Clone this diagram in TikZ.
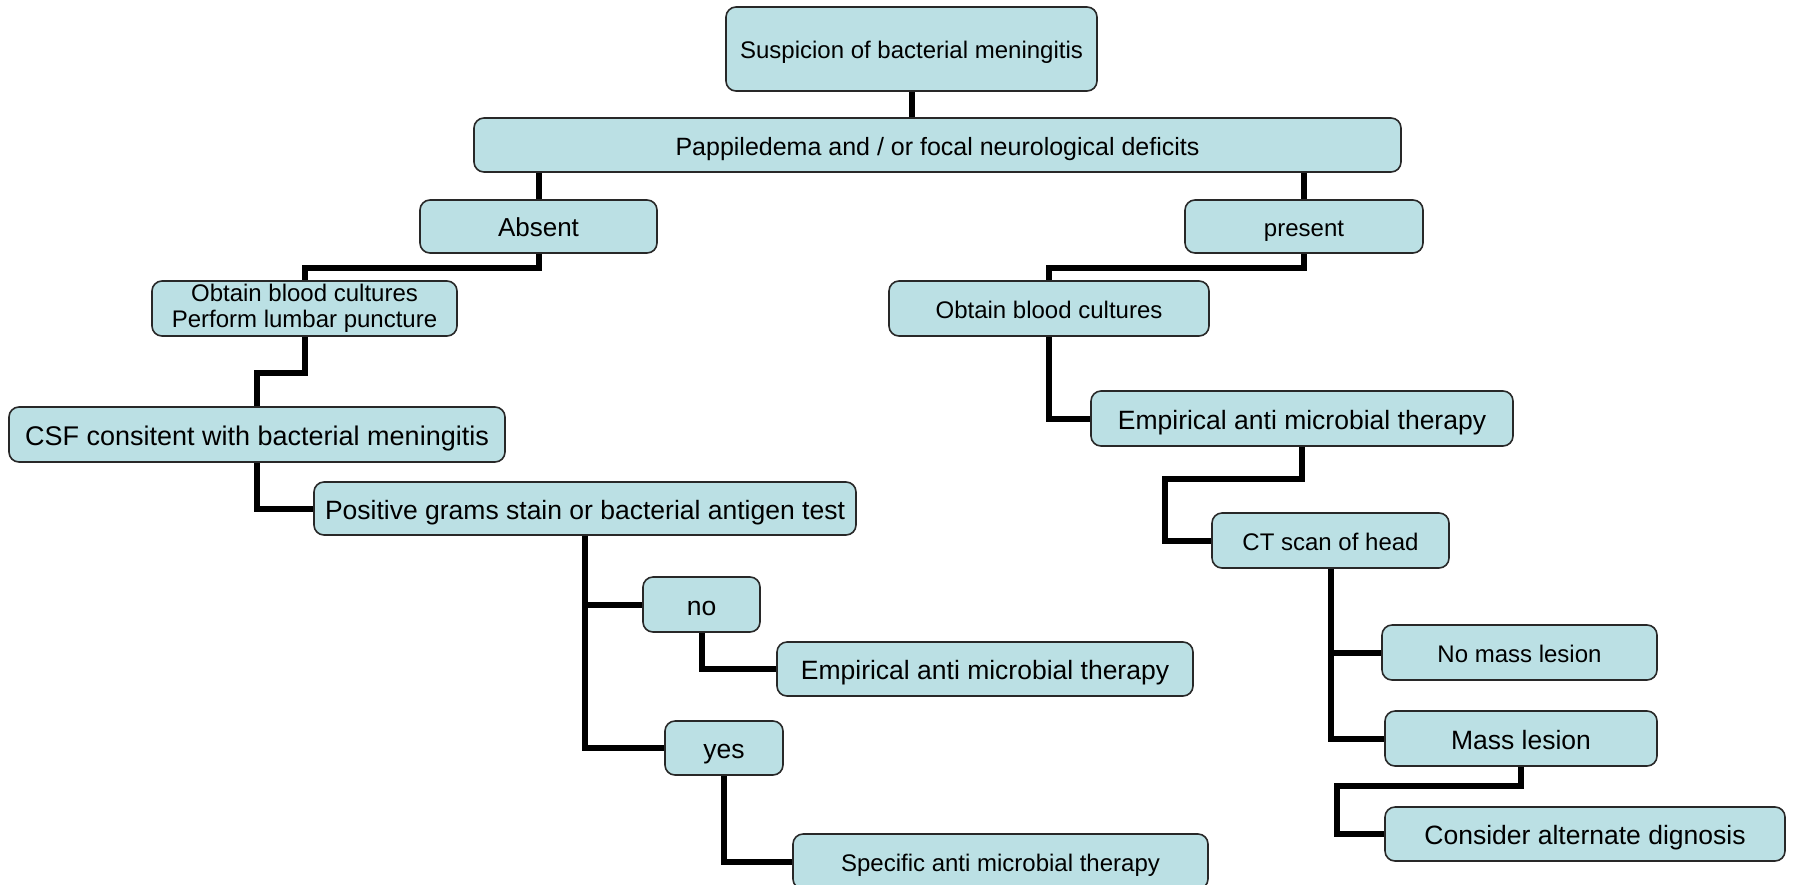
\documentclass[tikz,border=0pt]{standalone}
\usepackage{fontspec}
\setmainfont{Liberation Sans}
\definecolor{boxfill}{RGB}{187,224,228}
\definecolor{boxline}{RGB}{40,40,40}

\begin{document}
\begin{tikzpicture}[x=1pt, y=-1pt,
  every node/.style = {shape=rectangle, rounded corners=10pt,
    draw=boxline, line width=1.6pt, fill=boxfill,
    align=center, inner sep=0pt, text=black, text depth=0pt},
  small/.style = {font=\fontsize{24}{30}\selectfont, text height=19.2pt},
  big/.style = {font=\fontsize{26.5}{32}\selectfont, text height=21.2pt},
  link/.style = {line width=6pt, black}]
  \useasboundingbox (0,0) rectangle (1795,884);
  \node [small, minimum width=371, minimum height=84] (susp) at (911.5,49) {Suspicion of bacterial meningitis};
  \node [font=\fontsize{25}{30}\selectfont, text height=20pt, minimum width=927, minimum height=54] (papp) at (937.5,145) {Pappiledema and / or focal neurological deficits};
  \node [font=\fontsize{26}{30}\selectfont, text height=20.8pt, minimum width=237, minimum height=53] (absent) at (538.5,226.5) {Absent};
  \node [small, minimum width=238, minimum height=53] (present) at (1304,226.5) {present};
  \node [font=\fontsize{24}{30}\selectfont, text height=, text depth=, minimum width=305, minimum height=55] (obtainL) at (304.5,308.5) {Obtain blood cultures\\[-4pt]Perform lumbar puncture};
  \node [font=\fontsize{27}{32}\selectfont, text height=21.6pt, minimum width=496, minimum height=55] (csf) at (257,434.5) {CSF consitent with bacterial meningitis};
  \node [big, minimum width=542, minimum height=53] (pos) at (585,508.5) {Positive grams stain or bacterial antigen test};
  \node [big, minimum width=117, minimum height=55] (no) at (701.5,604.5) {no};
  \node [big, minimum width=416, minimum height=54] (empL) at (985,669) {Empirical anti microbial therapy};
  \node [big, minimum width=118, minimum height=54] (yes) at (724,748) {yes};
  \node [small, minimum width=415, minimum height=55] (spec) at (1000.5,861.5) {Specific anti microbial therapy};
  \node [small, minimum width=320, minimum height=55] (obtainR) at (1049,308.5) {Obtain blood cultures};
  \node [big, minimum width=422, minimum height=55] (empR) at (1302,418.5) {Empirical anti microbial therapy};
  \node [small, minimum width=237, minimum height=55] (ct) at (1330.5,540.5) {CT scan of head};
  \node [small, minimum width=275, minimum height=55] (nomass) at (1519.5,652.5) {No mass lesion};
  \node [big, minimum width=272, minimum height=55] (mass) at (1521,738.5) {Mass lesion};
  \node [big, minimum width=400, minimum height=54] (consider) at (1585,834) {Consider alternate dignosis};
  \coordinate (kneeCT) at (1165,479);
  \coordinate (kneeCon) at (1337,786);

  \draw [link] (susp.south) -- (susp.south |- papp.north);
  \draw [link] (papp.south -| absent.north) -- (absent.north);
  \draw [link] (papp.south -| present.north) -- (present.north);
  \draw [link] (absent.south) -- ++(0,14) -| (obtainL.north);
  \draw [link] (obtainL.south) -- ++(0,36) -| (csf.north);
  \draw [link] (csf.south) |- (pos.west);
  \draw [link] (pos.south) |- (no.west);
  \draw [link] (pos.south) |- (yes.west);
  \draw [link] (no.south) |- (empL.west);
  \draw [link] (yes.south) |- (spec.west);
  \draw [link] (present.south) -- ++(0,14) -| (obtainR.north);
  \draw [link] (obtainR.south) |- (empR.west);
  \draw [link] (empR.south) |- (kneeCT) |- (ct.west);
  \draw [link] (ct.south) |- (nomass.west);
  \draw [link] (ct.south) |- (mass.west);
  \draw [link] (mass.south) |- (kneeCon) |- (consider.west);
\end{tikzpicture}
\end{document}
